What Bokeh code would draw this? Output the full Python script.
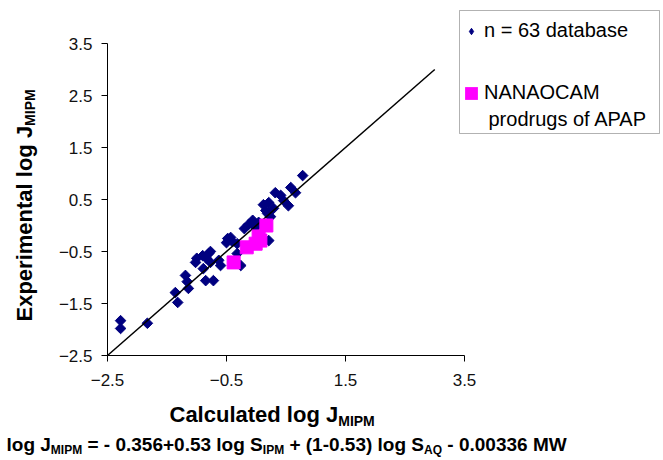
import numpy as np
from bokeh.plotting import figure
from bokeh.models import (Range1d, FixedTicker, Label, Legend, LegendItem, LinearAxis,
                          BoxAnnotation)
from bokeh.embed import file_html
from bokeh.resources import INLINE

# ---- data ----
db_calc = [-2.28, -2.28, -1.83, -1.36, -1.32, -1.19, -1.16, -1.14, -1.02, -0.90,
           -0.80, -0.77, -0.89, -0.85, -0.72, -0.60, -0.63, -0.48, -0.43, -0.40,
           -0.32, -0.32, -0.26, -0.13, -0.06, -0.01, 0.12, 0.21, 0.29, 0.16,
           0.19, 0.32, 0.41, 0.46, 0.54, 0.58, 0.66, 0.78, 0.21, -1.00,
           -0.84, -0.77, -0.50, -0.20, 0.04, 0.24]
db_exp = [-1.83, -1.98, -1.88, -1.29, -1.48, -0.96, -1.08, -1.21, -0.71, -0.58,
          -0.54, -0.71, -0.83, -1.06, -1.06, -0.77, -0.67, -0.25, -0.23, -0.31,
          -0.35, -0.54, -0.77, 0.02, 0.10, -0.04, 0.40, 0.44, 0.33, 0.29,
          0.23, 0.63, 0.58, 0.48, 0.38, 0.73, 0.63, 0.96, -0.29, -0.63,
          -0.63, -0.50, -0.33, -0.06, 0.06, 0.17]
pro_calc = [-0.38, -0.16, -0.01, 0.04, 0.17, 0.07]
pro_exp = [-0.71, -0.42, -0.35, -0.21, 0.00, -0.29]
line_x = [-2.5, 3.0]
line_y = [-2.5, 3.0]
x_ticks = [-2.5, -0.5, 1.5, 3.5]
y_ticks = [-2.5, -1.5, -0.5, 0.5, 1.5, 2.5, 3.5]
axis_lo, axis_hi = -2.5, 3.5
legend_db = "n = 63 database"
legend_pro = "NANAOCAM"
legend_pro2 = "prodrugs of APAP"

W, H = 661, 458
# pixel positions of the axis corners on the canvas
PX0, PX1 = 107, 464   # x = -2.5 .. 3.5
PY0, PY1 = 355, 43    # y = -2.5 .. 3.5
kx = (axis_hi - axis_lo) / (PX1 - PX0)
ky = (axis_hi - axis_lo) / (PY0 - PY1)

p = figure(width=W, height=H, output_backend="svg", toolbar_location=None,
           x_axis_location=None, y_axis_location=None,
           x_range=Range1d(axis_lo - PX0 * kx, axis_hi + (W - PX1) * kx),
           y_range=Range1d(axis_lo - (H - PY0) * ky, axis_hi + PY1 * ky),
           min_border=0)
p.outline_line_color = None
p.xgrid.visible = False
p.ygrid.visible = False
p.background_fill_color = "white"
p.border_fill_color = "white"


def dx(px):
    return axis_lo + (px - PX0) * kx


def dy(py):
    return axis_lo + (PY0 - py) * ky


xax = LinearAxis(fixed_location=axis_lo, bounds=(axis_lo, axis_hi))
yax = LinearAxis(fixed_location=axis_lo, bounds=(axis_lo, axis_hi))
p.add_layout(xax, "below")
p.add_layout(yax, "left")
for ax, ticks in ((xax, x_ticks), (yax, y_ticks)):
    ax.ticker = FixedTicker(ticks=ticks)
    ax.axis_line_color = "black"
    ax.major_tick_line_color = "black"
    ax.major_tick_out = 6
    ax.major_tick_in = 0
    ax.minor_tick_line_color = None
    ax.major_label_text_font = "Liberation Sans"
    ax.major_label_text_font_size = "17px"
    ax.major_label_text_color = "#111111"
xax.major_label_standoff = 12
yax.major_label_standoff = 9

NAVY, MAG = "#000080", "#FF00FF"
r_db = p.scatter(db_calc, db_exp, marker="square", angle=np.pi / 4, size=7.5,
                 fill_color=NAVY, line_color=NAVY)
p.line(line_x, line_y, line_color="black", line_width=1.5)
r_pro = p.scatter(pro_calc, pro_exp, marker="square", size=13,
                  fill_color=MAG, line_color=MAG)
# legend swatches (zero-size in the plot, only used to draw the legend keys)
key_db = p.scatter(db_calc, db_exp, marker="diamond", size=0,
                   fill_color=NAVY, line_color=NAVY)
key_pro = p.rect(pro_calc, pro_exp, width=0, height=0, fill_color=MAG, line_color=None)

# legend frame
p.add_layout(BoxAnnotation(left=dx(459), right=dx(659), top=dy(10), bottom=dy(133),
                           fill_color="white", fill_alpha=1.0,
                           line_color="black", line_width=1, level="annotation"))
legend = Legend(items=[LegendItem(label=legend_db, renderers=[key_db]),
                       LegendItem(label=legend_pro, renderers=[key_pro])],
                location=(463, H - 104), border_line_color=None,
                background_fill_alpha=0.0, padding=8, spacing=39, margin=0,
                glyph_width=16, glyph_height=16, label_standoff=5,
                label_text_font="Liberation Sans", label_text_font_size="20px",
                label_text_color="black", label_height=20)
p.add_layout(legend)
p.add_layout(Label(x=dx(488), y=dy(118), text=legend_pro2, text_align="left",
                   text_baseline="middle", text_font="Liberation Sans",
                   text_font_size="20px", text_color="black"))

# Arial/Liberation Sans Bold advance widths (1/1000 em) for text placement
AB = {' ': 278, '(': 333, ')': 333, '+': 584, '-': 333, '.': 278, '=': 584,
      'A': 722, 'C': 722, 'E': 667, 'I': 278, 'J': 556, 'M': 833, 'P': 667,
      'Q': 778, 'S': 667, 'W': 944, 'a': 556, 'c': 556, 'd': 611, 'e': 556,
      'g': 611, 'i': 278, 'l': 278, 'm': 889, 'n': 611, 'o': 611, 'p': 611,
      'r': 389, 't': 333, 'u': 611, 'x': 556}
for ch in "0123456789":
    AB[ch] = 556


def tw(s, size):
    return sum(AB[c] for c in s) * size / 1000.0


def lab(px, py, text, size, angle=0.0):
    p.add_layout(Label(x=dx(px), y=dy(py), text=text, angle=angle, text_align="left",
                       text_baseline="middle", text_font="Liberation Sans",
                       text_font_size=f"{size}px", text_font_style="bold",
                       text_color="black"))


def rich(px, py, pieces, main, sub, drop, vertical=False):
    """pieces: list of (text, is_sub); px/py is the start point."""
    cur = 0.0
    for text, is_sub in pieces:
        size = sub if is_sub else main
        lead = len(text) - len(text.lstrip(" "))
        body = text.strip(" ")
        cur += tw(" " * lead, size)
        off = drop if is_sub else 0.0
        if vertical:
            lab(px + off, py - cur, body, size, angle=np.pi / 2)
        else:
            lab(px + cur, py + off, body, size)
        cur += tw(body, size)


# y axis title
rich(24, 321, [("Experimental log J", False), ("MIPM", True)], 22, 14, 5, vertical=True)
# x axis title
rich(169, 414, [("Calculated log J", False), ("MIPM", True)], 22, 14, 6)
# formula
rich(6, 444, [("log J", False), ("MIPM", True), (" = - 0.356+0.53 log S", False),
              ("IPM", True), (" + (1-0.53) log S", False), ("AQ", True),
              (" - 0.00336 MW", False)], 19, 12, 5)

open("out.html", "w").write(file_html(p, INLINE))
